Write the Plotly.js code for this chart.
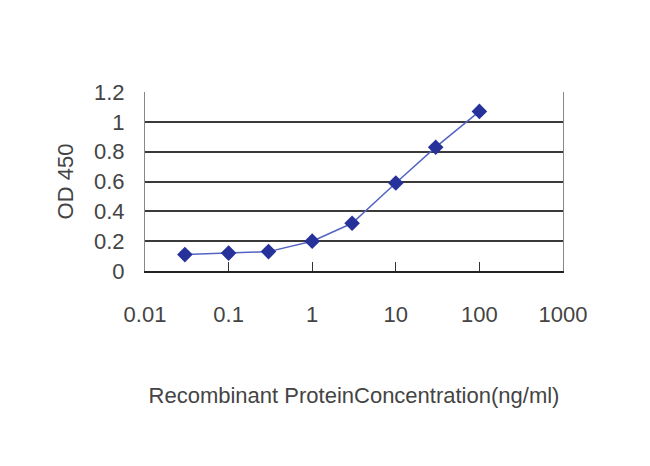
<!DOCTYPE html>
<html>
<head>
<meta charset="utf-8">
<script src="https://cdn.plot.ly/plotly-3.0.1.min.js"></script>
<style>html,body{margin:0;padding:0;background:#fff;}#chart{width:650px;height:466px;}</style>
</head>
<body>
<div id="chart"></div>
<script>
const concentrations = [0.03, 0.1, 0.3, 1, 3, 10, 30, 100];
const od450 = [0.11, 0.12, 0.13, 0.2, 0.32, 0.59, 0.83, 1.07];
const xTickVals = [0.01, 0.1, 1, 10, 100, 1000];
const xTickText = ['0.01', '0.1', '1', '10', '100', '1000'];
const yTickVals = [0, 0.2, 0.4, 0.6, 0.8, 1, 1.2];
const yTickText = ['0', '0.2', '0.4', '0.6', '0.8', '1', '1.2'];

const font = {family: 'Liberation Sans, Arial, sans-serif', size: 22, color: '#444'};

Plotly.newPlot('chart', [{
  x: concentrations,
  y: od450,
  type: 'scatter',
  mode: 'lines+markers',
  line: {color: '#5464c4', width: 1.5},
  marker: {symbol: 'diamond', size: 12, color: '#26329a'}
}], {
  width: 650, height: 466,
  margin: {l: 145, r: 87, t: 92, b: 195},
  paper_bgcolor: '#fff', plot_bgcolor: '#fff',
  showlegend: false,
  font: font,
  xaxis: {
    type: 'log', range: [-2, 3],
    tickvals: xTickVals, ticktext: xTickText,
    ticks: 'inside', ticklen: 9, tickcolor: '#333', tickwidth: 1,
    ticklabelstandoff: 23,
    showline: true, linecolor: '#222', linewidth: 1.5,
    mirror: false, showgrid: false, zeroline: false,
    tickfont: font,
    title: {text: 'Recombinant ProteinConcentration(ng/ml)', font: font, standoff: 61}
  },
  yaxis: {
    range: [0, 1.2],
    tickvals: yTickVals, ticktext: yTickText,
    ticks: '', ticklabelstandoff: 15,
    showline: true, linecolor: '#888', linewidth: 1, mirror: true,
    showgrid: true, gridcolor: '#3a3a3a', gridwidth: 2,
    zeroline: false,
    tickfont: font,
    title: {text: 'OD 450', font: font, standoff: 14}
  }
}, {displayModeBar: false, staticPlot: true});
</script>
</body>
</html>
